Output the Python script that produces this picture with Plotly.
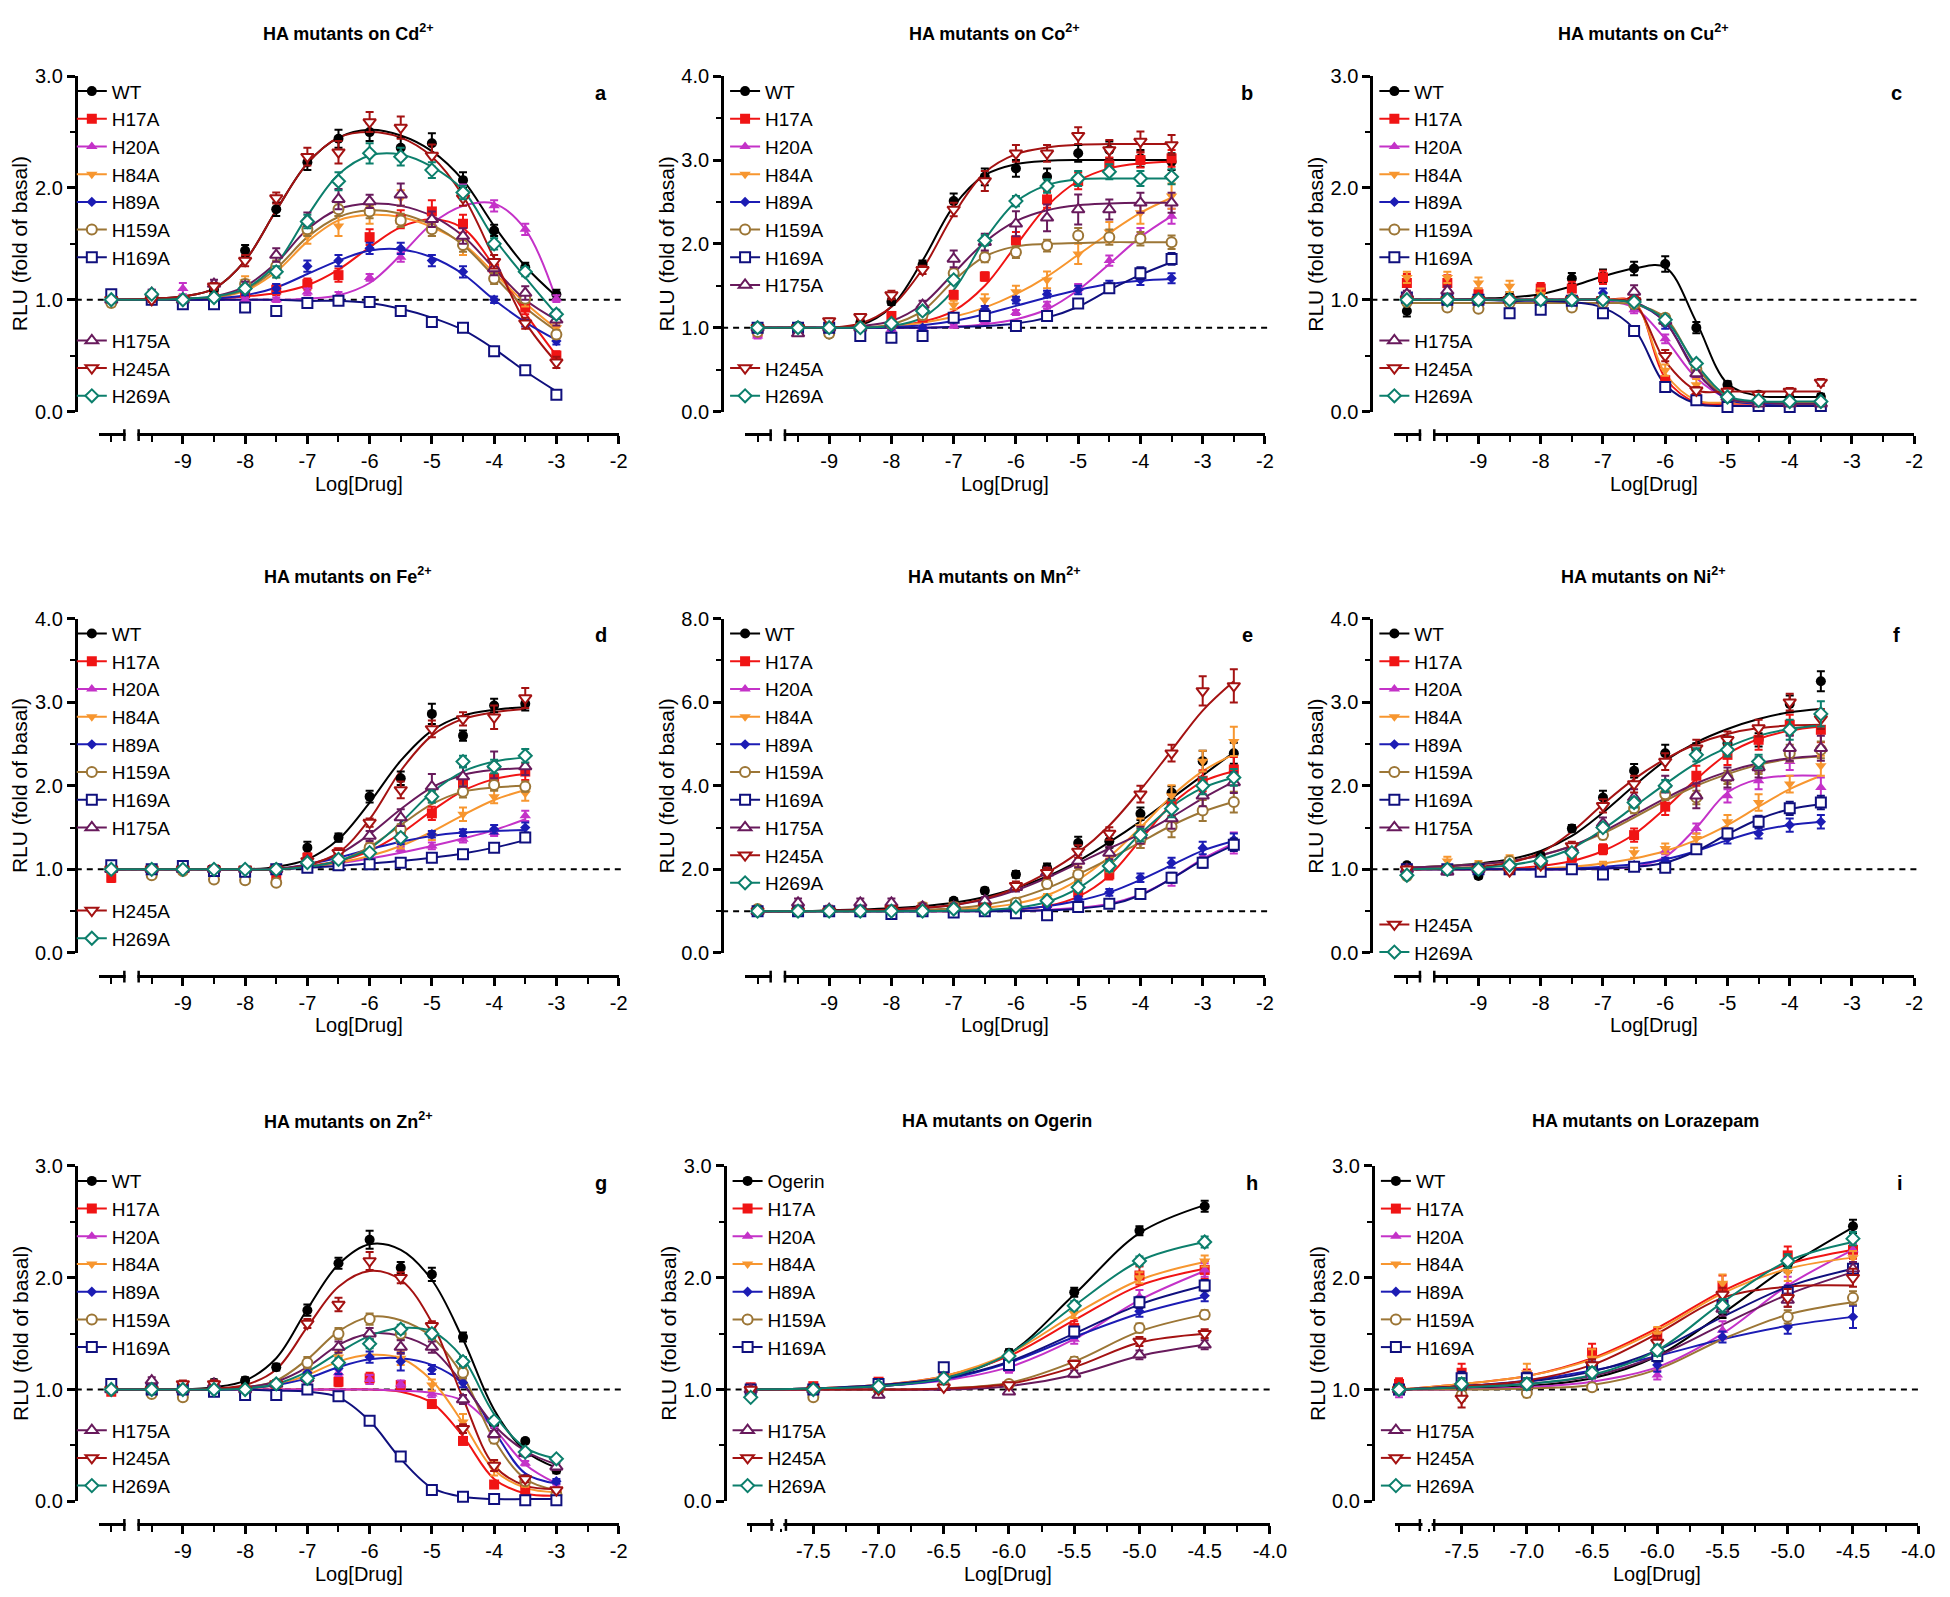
import plotly.graph_objects as go

W, H = 1950, 1597
FONT = "Arial, Liberation Sans, sans-serif"

# ---- series styling -------------------------------------------------------
MUTANTS = ["WT", "H17A", "H20A", "H84A", "H89A", "H159A", "H169A", "H175A", "H245A", "H269A"]
OGERIN_NAMES = ["Ogerin", "H17A", "H20A", "H84A", "H89A", "H159A", "H169A", "H175A", "H245A", "H269A"]
COLORS = ["#000000", "#f01414", "#c432c8", "#f7962f", "#1c1cb4",
          "#9c7636", "#10107e", "#681a5c", "#a41212", "#0c7f6c"]
SYMBOLS = ["circle", "square", "triangle-up", "triangle-down", "diamond",
           "circle", "square", "triangle-up", "triangle-down", "diamond"]
HOLLOW = [False, False, False, False, False, True, True, True, True, True]
SIZES = [10, 10, 10, 10, 8, 10, 10, 11, 11, 10]

# ---- x values (log molar); first value is the basal point on the broken segment
X_M3 = [-10.15, -9.5, -9.0, -8.5, -8.0, -7.5, -7.0, -6.5, -6.0, -5.5, -5.0, -4.5, -4.0, -3.5, -3.0]
X_M35 = [-10.15, -9.5, -9.0, -8.5, -8.0, -7.5, -7.0, -6.5, -6.0, -5.5, -5.0, -4.5, -4.0, -3.5]
X_M25 = [-10.15, -9.5, -9.0, -8.5, -8.0, -7.5, -7.0, -6.5, -6.0, -5.5, -5.0, -4.5, -4.0, -3.5, -3.0, -2.5]
X_DRUG = [-7.98, -7.5, -7.0, -6.5, -6.0, -5.5, -5.0, -4.5]

# ---- a: Cd2+  (means, SEM, fitted curve read at the same x) ---------------
CD_Y = [
    [1.00, 1.04, 0.98, 1.09, 1.44, 1.81, 2.23, 2.44, 2.50, 2.36, 2.40, 2.07, 1.62, 1.29, 1.05],
    [1.00, 1.00, 1.00, 1.02, 1.06, 1.09, 1.14, 1.22, 1.56, 1.72, 1.79, 1.68, 1.28, 0.93, 0.50],
    [1.00, 1.06, 1.10, 1.02, 1.00, 1.00, 1.07, 1.04, 1.20, 1.38, 1.68, 1.98, 1.84, 1.63, 1.01],
    [0.97, 1.00, 1.00, 1.02, 1.16, 1.26, 1.57, 1.66, 1.76, 1.91, 1.63, 1.46, 1.25, 0.99, 0.75],
    [1.00, 1.00, 0.96, 1.00, 1.07, 1.10, 1.30, 1.35, 1.46, 1.46, 1.35, 1.25, 1.00, 0.79, 0.63],
    [0.97, 1.00, 1.00, 1.00, 1.14, 1.30, 1.63, 1.81, 1.79, 1.71, 1.63, 1.49, 1.19, 1.01, 0.69],
    [1.05, 1.00, 0.96, 0.96, 0.93, 0.90, 0.97, 0.99, 0.98, 0.90, 0.80, 0.75, 0.54, 0.37, 0.15],
    [1.00, 1.06, 1.00, 1.14, 1.12, 1.40, 1.72, 1.90, 1.88, 1.94, 1.72, 1.57, 1.28, 1.06, 0.82],
    [1.00, 1.00, 1.00, 1.12, 1.35, 1.91, 2.28, 2.32, 2.59, 2.54, 2.29, 1.91, 1.34, 0.79, 0.44],
    [1.00, 1.05, 1.00, 1.02, 1.10, 1.25, 1.70, 2.06, 2.31, 2.28, 2.16, 1.96, 1.50, 1.25, 0.87],
]
CD_E = [
    [0.03, 0.03, 0.03, 0.04, 0.05, 0.06, 0.07, 0.08, 0.08, 0.09, 0.09, 0.07, 0.05, 0.04, 0.04],
    [0.02, 0.02, 0.02, 0.03, 0.04, 0.05, 0.05, 0.06, 0.07, 0.08, 0.10, 0.08, 0.07, 0.06, 0.04],
    [0.02, 0.03, 0.05, 0.03, 0.02, 0.02, 0.03, 0.03, 0.03, 0.04, 0.05, 0.05, 0.05, 0.05, 0.03],
    [0.03, 0.02, 0.02, 0.03, 0.05, 0.06, 0.07, 0.09, 0.08, 0.07, 0.06, 0.06, 0.05, 0.05, 0.04],
    [0.02, 0.02, 0.02, 0.02, 0.03, 0.04, 0.05, 0.05, 0.05, 0.05, 0.05, 0.05, 0.03, 0.03, 0.03],
    [0.02, 0.02, 0.02, 0.02, 0.04, 0.05, 0.06, 0.06, 0.06, 0.06, 0.06, 0.06, 0.05, 0.04, 0.04],
    [0.03, 0.02, 0.02, 0.02, 0.03, 0.03, 0.03, 0.03, 0.03, 0.03, 0.03, 0.03, 0.03, 0.03, 0.03],
    [0.02, 0.03, 0.03, 0.04, 0.04, 0.06, 0.06, 0.09, 0.06, 0.10, 0.07, 0.07, 0.06, 0.06, 0.05],
    [0.02, 0.02, 0.02, 0.03, 0.05, 0.05, 0.08, 0.10, 0.09, 0.10, 0.10, 0.07, 0.06, 0.05, 0.05],
    [0.02, 0.02, 0.02, 0.02, 0.03, 0.05, 0.06, 0.08, 0.09, 0.08, 0.07, 0.06, 0.05, 0.04, 0.04],
]
CD_FIT = [
    [1.00, 1.01, 1.03, 1.10, 1.35, 1.80, 2.22, 2.45, 2.52, 2.47, 2.33, 2.07, 1.66, 1.30, 1.03],
    [1.00, 1.00, 1.00, 1.01, 1.03, 1.06, 1.13, 1.27, 1.47, 1.65, 1.72, 1.64, 1.30, 0.88, 0.50],
    [1.00, 1.00, 1.00, 1.00, 1.00, 1.00, 1.01, 1.04, 1.15, 1.40, 1.68, 1.84, 1.86, 1.63, 1.00],
    [1.00, 1.00, 1.00, 1.02, 1.08, 1.25, 1.52, 1.71, 1.76, 1.74, 1.65, 1.50, 1.24, 0.97, 0.74],
    [1.00, 1.00, 1.00, 1.01, 1.04, 1.11, 1.23, 1.35, 1.44, 1.45, 1.38, 1.23, 1.00, 0.80, 0.64],
    [1.00, 1.00, 1.00, 1.02, 1.09, 1.28, 1.56, 1.74, 1.80, 1.77, 1.67, 1.49, 1.21, 0.93, 0.72],
    [1.00, 1.00, 1.00, 1.00, 1.00, 1.00, 0.99, 0.99, 0.97, 0.92, 0.84, 0.73, 0.56, 0.36, 0.18],
    [1.00, 1.00, 1.01, 1.03, 1.12, 1.33, 1.63, 1.81, 1.86, 1.84, 1.75, 1.57, 1.28, 1.00, 0.82],
    [1.00, 1.01, 1.03, 1.10, 1.35, 1.80, 2.22, 2.45, 2.50, 2.45, 2.28, 1.93, 1.37, 0.80, 0.44],
    [1.00, 1.00, 1.01, 1.03, 1.10, 1.32, 1.75, 2.12, 2.29, 2.30, 2.19, 1.98, 1.55, 1.20, 0.87],
]

# ---- b: Co2+ --------------------------------------------------------------
CO_Y = [
    [1.00, 1.02, 0.92, 1.06, 1.31, 1.75, 2.51, 2.80, 2.90, 2.80, 3.08, 3.12, 3.02, 2.98],
    [0.95, 1.00, 1.00, 1.00, 1.14, 1.12, 1.39, 1.61, 2.04, 2.53, 2.75, 2.94, 3.00, 3.02],
    [0.90, 1.00, 1.00, 1.00, 0.98, 1.00, 1.02, 1.08, 1.18, 1.27, 1.47, 1.80, 2.12, 2.33],
    [1.00, 1.00, 1.00, 1.00, 1.02, 1.14, 1.27, 1.33, 1.43, 1.57, 1.88, 2.14, 2.37, 2.57],
    [1.00, 1.00, 1.00, 1.00, 1.00, 1.00, 1.10, 1.22, 1.33, 1.40, 1.45, 1.51, 1.57, 1.59],
    [0.95, 0.97, 0.93, 1.00, 1.04, 1.15, 1.65, 1.84, 1.90, 1.98, 2.10, 2.08, 2.06, 2.02],
    [1.00, 1.00, 1.00, 0.90, 0.88, 0.90, 1.12, 1.14, 1.02, 1.14, 1.29, 1.47, 1.65, 1.82],
    [1.00, 0.93, 1.00, 1.00, 1.05, 1.27, 1.82, 2.02, 2.24, 2.31, 2.41, 2.41, 2.49, 2.49],
    [1.00, 1.00, 1.08, 1.13, 1.39, 1.69, 2.41, 2.75, 3.08, 3.08, 3.29, 3.12, 3.22, 3.18],
    [1.00, 1.00, 1.00, 1.00, 1.05, 1.20, 1.57, 2.04, 2.51, 2.69, 2.78, 2.86, 2.78, 2.80],
]
CO_E = [
    [0.03, 0.03, 0.03, 0.03, 0.04, 0.05, 0.09, 0.10, 0.10, 0.10, 0.10, 0.10, 0.10, 0.10],
    [0.03, 0.02, 0.02, 0.02, 0.04, 0.04, 0.05, 0.05, 0.10, 0.10, 0.10, 0.09, 0.09, 0.10],
    [0.03, 0.02, 0.02, 0.02, 0.02, 0.02, 0.02, 0.03, 0.03, 0.04, 0.05, 0.06, 0.07, 0.09],
    [0.02, 0.02, 0.02, 0.02, 0.02, 0.04, 0.05, 0.07, 0.07, 0.10, 0.12, 0.12, 0.13, 0.15],
    [0.02, 0.02, 0.02, 0.02, 0.02, 0.02, 0.03, 0.04, 0.04, 0.04, 0.05, 0.05, 0.06, 0.06],
    [0.02, 0.02, 0.02, 0.02, 0.02, 0.03, 0.05, 0.06, 0.07, 0.07, 0.09, 0.09, 0.08, 0.08],
    [0.02, 0.02, 0.02, 0.02, 0.02, 0.02, 0.03, 0.03, 0.03, 0.03, 0.04, 0.05, 0.07, 0.07],
    [0.02, 0.02, 0.02, 0.02, 0.03, 0.05, 0.10, 0.10, 0.15, 0.16, 0.18, 0.12, 0.12, 0.12],
    [0.02, 0.03, 0.03, 0.03, 0.05, 0.05, 0.08, 0.12, 0.10, 0.10, 0.10, 0.12, 0.12, 0.12],
    [0.02, 0.02, 0.02, 0.02, 0.02, 0.04, 0.05, 0.06, 0.06, 0.08, 0.09, 0.09, 0.09, 0.09],
]
CO_FIT = [
    [1.00, 1.00, 1.00, 1.03, 1.25, 1.80, 2.45, 2.82, 2.95, 2.99, 3.00, 3.00, 3.00, 3.00],
    [1.00, 1.00, 1.00, 1.00, 1.02, 1.07, 1.20, 1.50, 1.98, 2.45, 2.75, 2.90, 2.96, 2.98],
    [1.00, 1.00, 1.00, 1.00, 1.00, 1.00, 1.01, 1.04, 1.10, 1.22, 1.45, 1.76, 2.08, 2.33],
    [1.00, 1.00, 1.00, 1.00, 1.02, 1.06, 1.13, 1.24, 1.40, 1.61, 1.87, 2.13, 2.37, 2.55],
    [1.00, 1.00, 1.00, 1.00, 1.01, 1.03, 1.08, 1.16, 1.26, 1.36, 1.45, 1.52, 1.56, 1.58],
    [1.00, 1.00, 1.00, 1.00, 1.04, 1.20, 1.56, 1.85, 1.97, 2.00, 2.01, 2.02, 2.02, 2.02],
    [1.00, 1.00, 1.00, 1.00, 1.00, 1.00, 1.01, 1.02, 1.05, 1.12, 1.25, 1.45, 1.63, 1.78],
    [1.00, 1.00, 1.00, 1.02, 1.08, 1.28, 1.65, 2.02, 2.27, 2.40, 2.46, 2.48, 2.49, 2.49],
    [1.00, 1.00, 1.00, 1.05, 1.25, 1.70, 2.35, 2.85, 3.07, 3.15, 3.18, 3.19, 3.19, 3.19],
    [1.00, 1.00, 1.00, 1.00, 1.02, 1.12, 1.45, 2.05, 2.50, 2.70, 2.77, 2.78, 2.78, 2.78],
]

# ---- c: Cu2+ --------------------------------------------------------------
CU_Y = [
    [0.90, 1.00, 0.98, 1.03, 1.09, 1.19, 1.21, 1.28, 1.32, 0.75, 0.24, 0.15, 0.12, 0.13],
    [1.15, 1.15, 1.05, 1.00, 1.10, 1.10, 1.20, 0.99, 0.28, 0.12, 0.07, 0.06, 0.06, 0.08],
    [1.00, 1.05, 1.00, 1.00, 0.97, 1.00, 0.97, 0.91, 0.65, 0.32, 0.10, 0.07, 0.06, 0.06],
    [1.20, 1.20, 1.15, 1.12, 1.05, 1.00, 0.97, 0.97, 0.37, 0.24, 0.10, 0.08, 0.08, 0.08],
    [1.00, 1.00, 1.00, 1.00, 1.00, 1.00, 1.06, 0.96, 0.78, 0.35, 0.10, 0.07, 0.06, 0.06],
    [0.98, 0.93, 0.92, 0.97, 0.95, 0.93, 0.97, 0.96, 0.84, 0.38, 0.12, 0.08, 0.07, 0.07],
    [1.02, 1.00, 1.00, 0.88, 0.91, 0.99, 0.88, 0.72, 0.22, 0.10, 0.04, 0.05, 0.04, 0.05],
    [1.05, 1.08, 1.00, 1.00, 1.00, 1.00, 1.00, 1.07, 0.81, 0.34, 0.13, 0.07, 0.07, 0.07],
    [1.00, 1.00, 1.00, 1.00, 1.00, 1.00, 1.00, 0.99, 0.50, 0.19, 0.18, 0.15, 0.18, 0.26],
    [1.00, 1.00, 1.00, 1.00, 1.00, 1.00, 1.00, 0.98, 0.82, 0.43, 0.13, 0.10, 0.09, 0.09],
]
CU_E = [
    [0.05, 0.03, 0.03, 0.04, 0.04, 0.05, 0.06, 0.06, 0.07, 0.05, 0.03, 0.02, 0.02, 0.03],
    [0.08, 0.07, 0.05, 0.03, 0.05, 0.06, 0.06, 0.05, 0.03, 0.02, 0.02, 0.02, 0.02, 0.02],
    [0.04, 0.04, 0.03, 0.03, 0.03, 0.03, 0.03, 0.03, 0.04, 0.03, 0.02, 0.02, 0.02, 0.02],
    [0.05, 0.05, 0.05, 0.05, 0.05, 0.04, 0.04, 0.04, 0.05, 0.05, 0.02, 0.02, 0.02, 0.02],
    [0.03, 0.03, 0.03, 0.03, 0.03, 0.03, 0.04, 0.04, 0.04, 0.03, 0.02, 0.02, 0.02, 0.02],
    [0.03, 0.03, 0.03, 0.03, 0.03, 0.03, 0.03, 0.03, 0.03, 0.03, 0.02, 0.02, 0.02, 0.02],
    [0.03, 0.03, 0.03, 0.03, 0.03, 0.03, 0.03, 0.03, 0.02, 0.02, 0.02, 0.02, 0.02, 0.02],
    [0.03, 0.04, 0.03, 0.03, 0.03, 0.03, 0.03, 0.06, 0.04, 0.03, 0.02, 0.02, 0.02, 0.02],
    [0.03, 0.03, 0.03, 0.03, 0.03, 0.03, 0.03, 0.03, 0.05, 0.03, 0.03, 0.03, 0.03, 0.03],
    [0.03, 0.03, 0.03, 0.03, 0.03, 0.03, 0.03, 0.03, 0.03, 0.03, 0.02, 0.02, 0.02, 0.02],
]
CU_FIT = [
    [1.00, 1.00, 1.01, 1.02, 1.05, 1.12, 1.21, 1.28, 1.29, 0.80, 0.25, 0.14, 0.13, 0.13],
    [1.00, 1.00, 1.00, 1.00, 1.00, 1.00, 1.00, 0.98, 0.30, 0.08, 0.07, 0.07, 0.07, 0.07],
    [1.00, 1.00, 1.00, 1.00, 1.00, 1.00, 0.99, 0.93, 0.65, 0.30, 0.12, 0.08, 0.07, 0.07],
    [1.00, 1.00, 1.00, 1.00, 1.00, 1.00, 1.00, 0.97, 0.34, 0.10, 0.08, 0.08, 0.08, 0.08],
    [1.00, 1.00, 1.00, 1.00, 1.00, 1.00, 1.00, 0.97, 0.80, 0.36, 0.11, 0.07, 0.06, 0.06],
    [0.97, 0.97, 0.97, 0.97, 0.97, 0.97, 0.97, 0.96, 0.84, 0.40, 0.12, 0.08, 0.07, 0.07],
    [1.00, 1.00, 1.00, 0.99, 0.99, 0.98, 0.93, 0.74, 0.24, 0.07, 0.05, 0.05, 0.05, 0.05],
    [1.00, 1.00, 1.00, 1.00, 1.00, 1.00, 1.00, 0.98, 0.80, 0.35, 0.12, 0.08, 0.07, 0.07],
    [1.00, 1.00, 1.00, 1.00, 1.00, 1.00, 1.00, 0.96, 0.45, 0.19, 0.18, 0.18, 0.18, 0.18],
    [1.00, 1.00, 1.00, 1.00, 1.00, 1.00, 1.00, 0.97, 0.82, 0.42, 0.14, 0.09, 0.09, 0.09],
]

# ---- d: Fe2+ --------------------------------------------------------------
FE_Y = [
    [0.98, 1.00, 0.98, 1.00, 0.98, 1.02, 1.26, 1.38, 1.87, 2.09, 2.86, 2.60, 2.96, 2.98],
    [0.90, 1.00, 1.00, 1.00, 0.97, 0.92, 1.14, 1.20, 1.24, 1.42, 1.67, 2.01, 2.09, 2.17],
    [1.00, 1.00, 1.00, 1.00, 1.00, 1.00, 1.05, 1.08, 1.20, 1.24, 1.28, 1.36, 1.44, 1.64],
    [1.00, 1.00, 1.00, 1.00, 1.00, 1.00, 1.05, 1.12, 1.22, 1.30, 1.40, 1.66, 1.87, 1.91],
    [1.00, 1.00, 1.00, 1.00, 1.00, 1.00, 1.10, 1.16, 1.24, 1.34, 1.42, 1.44, 1.48, 1.50],
    [1.00, 0.93, 0.98, 0.88, 0.87, 0.84, 1.06, 1.12, 1.26, 1.48, 1.87, 1.93, 2.01, 1.99],
    [1.05, 1.00, 1.04, 0.98, 0.97, 1.00, 1.02, 1.05, 1.06, 1.08, 1.14, 1.18, 1.26, 1.38],
    [1.00, 1.00, 1.00, 1.00, 1.00, 1.00, 1.10, 1.12, 1.40, 1.62, 1.99, 2.11, 2.25, 2.23],
    [1.00, 1.00, 1.00, 1.00, 1.00, 1.00, 1.10, 1.20, 1.56, 1.95, 2.68, 2.80, 2.82, 3.05],
    [1.00, 1.00, 1.00, 1.00, 1.00, 1.00, 1.08, 1.12, 1.20, 1.38, 1.87, 2.29, 2.23, 2.36],
]
FE_E = [
    [0.03, 0.03, 0.03, 0.03, 0.03, 0.03, 0.07, 0.05, 0.07, 0.08, 0.12, 0.06, 0.08, 0.08],
    [0.05, 0.03, 0.03, 0.03, 0.03, 0.05, 0.05, 0.05, 0.07, 0.08, 0.08, 0.10, 0.10, 0.10],
    [0.03, 0.02, 0.02, 0.02, 0.02, 0.02, 0.03, 0.03, 0.03, 0.03, 0.04, 0.04, 0.04, 0.06],
    [0.02, 0.02, 0.02, 0.02, 0.02, 0.02, 0.03, 0.04, 0.05, 0.05, 0.05, 0.08, 0.08, 0.09],
    [0.02, 0.02, 0.02, 0.02, 0.02, 0.02, 0.03, 0.03, 0.04, 0.04, 0.04, 0.04, 0.05, 0.06],
    [0.02, 0.03, 0.03, 0.04, 0.04, 0.04, 0.03, 0.04, 0.05, 0.06, 0.07, 0.07, 0.07, 0.06],
    [0.02, 0.02, 0.02, 0.02, 0.02, 0.02, 0.02, 0.02, 0.02, 0.02, 0.02, 0.03, 0.05, 0.04],
    [0.02, 0.02, 0.02, 0.02, 0.02, 0.02, 0.04, 0.04, 0.06, 0.10, 0.15, 0.12, 0.16, 0.10],
    [0.02, 0.02, 0.02, 0.02, 0.02, 0.02, 0.04, 0.05, 0.05, 0.10, 0.10, 0.08, 0.14, 0.12],
    [0.02, 0.02, 0.02, 0.02, 0.02, 0.02, 0.03, 0.04, 0.04, 0.05, 0.07, 0.07, 0.08, 0.08],
]
FE_FIT = [
    [1.00, 1.00, 1.00, 1.00, 1.00, 1.03, 1.12, 1.36, 1.80, 2.30, 2.66, 2.84, 2.91, 2.94],
    [1.00, 1.00, 1.00, 1.00, 1.00, 1.00, 1.04, 1.10, 1.22, 1.43, 1.70, 1.94, 2.08, 2.14],
    [1.00, 1.00, 1.00, 1.00, 1.00, 1.00, 1.03, 1.07, 1.13, 1.20, 1.28, 1.37, 1.47, 1.60],
    [1.00, 1.00, 1.00, 1.00, 1.00, 1.00, 1.03, 1.08, 1.16, 1.28, 1.45, 1.65, 1.83, 1.95],
    [1.00, 1.00, 1.00, 1.00, 1.00, 1.00, 1.06, 1.14, 1.24, 1.33, 1.40, 1.44, 1.46, 1.47],
    [1.00, 1.00, 1.00, 1.00, 1.00, 1.00, 1.03, 1.10, 1.27, 1.53, 1.78, 1.93, 1.98, 2.00],
    [1.00, 1.00, 1.00, 1.00, 1.00, 1.00, 1.02, 1.04, 1.07, 1.10, 1.14, 1.19, 1.26, 1.35],
    [1.00, 1.00, 1.00, 1.00, 1.00, 1.01, 1.06, 1.18, 1.42, 1.72, 1.98, 2.13, 2.19, 2.21],
    [1.00, 1.00, 1.00, 1.00, 1.00, 1.00, 1.05, 1.20, 1.60, 2.18, 2.60, 2.80, 2.88, 2.92],
    [1.00, 1.00, 1.00, 1.00, 1.00, 1.00, 1.03, 1.10, 1.25, 1.56, 1.92, 2.17, 2.29, 2.34],
]

# ---- e: Mn2+ --------------------------------------------------------------
MN_Y = [
    [1.05, 1.00, 1.00, 1.00, 1.05, 1.05, 1.25, 1.49, 1.88, 2.04, 2.63, 2.67, 3.33, 3.84, 4.59, 4.78],
    [1.00, 1.00, 1.00, 1.00, 1.00, 1.00, 1.02, 1.05, 1.10, 1.20, 1.45, 1.88, 2.71, 3.53, 4.12, 4.39],
    [1.00, 1.00, 1.00, 1.00, 1.00, 1.00, 1.00, 1.00, 1.02, 1.05, 1.10, 1.20, 1.41, 1.76, 2.31, 2.63],
    [1.05, 1.05, 1.05, 1.05, 1.05, 1.15, 1.15, 1.20, 1.25, 1.33, 1.92, 2.16, 3.02, 3.76, 4.59, 5.06],
    [1.00, 1.00, 1.00, 1.00, 1.00, 1.00, 1.00, 1.02, 1.05, 1.10, 1.29, 1.45, 1.80, 2.16, 2.51, 2.71],
    [1.05, 1.00, 1.00, 1.00, 1.05, 1.10, 1.10, 1.15, 1.20, 1.65, 1.88, 2.08, 2.71, 3.02, 3.41, 3.61],
    [1.00, 1.00, 1.00, 1.00, 0.93, 1.00, 0.97, 1.00, 0.95, 0.90, 1.10, 1.18, 1.41, 1.80, 2.16, 2.59],
    [1.00, 1.20, 1.05, 1.20, 1.20, 1.10, 1.10, 1.25, 1.57, 1.92, 2.20, 2.39, 2.82, 3.22, 3.76, 4.08],
    [1.00, 1.00, 1.00, 1.00, 1.05, 1.05, 1.05, 1.10, 1.61, 1.92, 2.43, 2.86, 3.80, 4.78, 6.27, 6.39],
    [1.00, 1.00, 1.00, 1.00, 1.00, 1.00, 1.05, 1.05, 1.10, 1.25, 1.57, 2.08, 2.82, 3.45, 4.00, 4.20],
]
MN_E = [
    [0.05, 0.05, 0.05, 0.05, 0.05, 0.05, 0.06, 0.07, 0.08, 0.10, 0.15, 0.15, 0.15, 0.15, 0.25, 0.25],
    [0.05, 0.05, 0.05, 0.05, 0.05, 0.05, 0.05, 0.05, 0.05, 0.08, 0.10, 0.12, 0.20, 0.25, 0.25, 0.30],
    [0.05, 0.05, 0.05, 0.05, 0.05, 0.05, 0.05, 0.05, 0.05, 0.05, 0.06, 0.08, 0.10, 0.15, 0.20, 0.25],
    [0.05, 0.05, 0.05, 0.05, 0.05, 0.05, 0.05, 0.05, 0.05, 0.08, 0.15, 0.15, 0.20, 0.25, 0.25, 0.35],
    [0.05, 0.05, 0.05, 0.05, 0.05, 0.05, 0.05, 0.05, 0.05, 0.05, 0.06, 0.08, 0.10, 0.12, 0.15, 0.15],
    [0.05, 0.05, 0.05, 0.05, 0.05, 0.05, 0.05, 0.05, 0.05, 0.10, 0.15, 0.15, 0.20, 0.25, 0.25, 0.25],
    [0.05, 0.05, 0.05, 0.05, 0.05, 0.05, 0.05, 0.05, 0.05, 0.05, 0.06, 0.08, 0.10, 0.12, 0.12, 0.15],
    [0.05, 0.10, 0.08, 0.10, 0.10, 0.08, 0.08, 0.08, 0.10, 0.12, 0.15, 0.15, 0.20, 0.25, 0.25, 0.25],
    [0.05, 0.05, 0.05, 0.05, 0.05, 0.05, 0.05, 0.08, 0.10, 0.12, 0.15, 0.15, 0.20, 0.20, 0.35, 0.40],
    [0.05, 0.05, 0.05, 0.05, 0.05, 0.05, 0.05, 0.05, 0.05, 0.08, 0.10, 0.12, 0.15, 0.20, 0.20, 0.20],
]
MN_FIT = [
    [1.00, 1.00, 1.02, 1.04, 1.07, 1.12, 1.20, 1.34, 1.55, 1.83, 2.20, 2.65, 3.15, 3.70, 4.25, 4.80],
    [1.00, 1.00, 1.00, 1.00, 1.00, 1.00, 1.00, 1.01, 1.04, 1.12, 1.35, 1.85, 2.70, 3.55, 4.10, 4.35],
    [1.00, 1.00, 1.00, 1.00, 1.00, 1.00, 1.00, 1.00, 1.01, 1.03, 1.08, 1.18, 1.40, 1.78, 2.25, 2.62],
    [1.00, 1.00, 1.00, 1.00, 1.00, 1.01, 1.03, 1.08, 1.18, 1.38, 1.75, 2.30, 3.00, 3.75, 4.35, 4.75],
    [1.00, 1.00, 1.00, 1.00, 1.00, 1.00, 1.01, 1.02, 1.05, 1.12, 1.25, 1.45, 1.75, 2.10, 2.45, 2.68],
    [1.00, 1.00, 1.00, 1.00, 1.01, 1.03, 1.07, 1.15, 1.30, 1.55, 1.88, 2.25, 2.65, 3.05, 3.38, 3.62],
    [1.00, 1.00, 1.00, 1.00, 1.00, 1.00, 1.00, 1.00, 1.00, 1.02, 1.06, 1.15, 1.38, 1.78, 2.22, 2.58],
    [1.00, 1.00, 1.01, 1.02, 1.04, 1.08, 1.15, 1.28, 1.50, 1.80, 2.15, 2.50, 2.85, 3.25, 3.70, 4.10],
    [1.00, 1.00, 1.01, 1.02, 1.04, 1.08, 1.15, 1.30, 1.55, 1.92, 2.40, 3.05, 3.90, 4.85, 5.80, 6.50],
    [1.00, 1.00, 1.00, 1.00, 1.00, 1.00, 1.01, 1.03, 1.08, 1.22, 1.55, 2.10, 2.85, 3.50, 3.95, 4.20],
]

# ---- f: Ni2+ --------------------------------------------------------------
NI_Y = [
    [1.05, 1.00, 0.92, 1.03, 1.16, 1.49, 1.86, 2.18, 2.39, 2.43, 2.51, 2.55, 2.98, 3.25],
    [0.98, 1.00, 1.00, 1.00, 1.05, 1.14, 1.24, 1.41, 1.75, 2.12, 2.37, 2.55, 2.73, 2.67],
    [1.00, 1.00, 1.00, 1.00, 1.00, 1.00, 1.00, 1.05, 1.22, 1.49, 1.88, 2.06, 2.29, 1.98],
    [1.00, 1.10, 1.05, 1.12, 1.05, 1.00, 1.05, 1.20, 1.25, 1.37, 1.57, 1.80, 2.02, 2.24],
    [1.00, 1.00, 1.00, 1.00, 1.00, 1.00, 1.00, 1.05, 1.10, 1.24, 1.37, 1.43, 1.53, 1.57],
    [0.92, 1.00, 1.03, 1.10, 1.10, 1.20, 1.41, 1.73, 1.90, 1.86, 2.10, 2.22, 2.39, 2.43],
    [1.00, 1.00, 1.00, 1.00, 0.97, 1.00, 0.94, 1.03, 1.02, 1.24, 1.43, 1.57, 1.73, 1.80],
    [1.00, 0.97, 1.00, 1.05, 1.10, 1.25, 1.55, 1.86, 2.02, 1.88, 2.10, 2.22, 2.45, 2.45],
    [1.00, 1.00, 1.00, 0.98, 1.05, 1.28, 1.76, 2.02, 2.29, 2.45, 2.55, 2.69, 3.00, 2.80],
    [0.93, 1.00, 1.00, 1.05, 1.10, 1.20, 1.50, 1.80, 2.00, 2.37, 2.43, 2.29, 2.67, 2.86],
]
NI_E = [
    [0.03, 0.03, 0.03, 0.03, 0.04, 0.04, 0.08, 0.08, 0.10, 0.08, 0.08, 0.08, 0.10, 0.12],
    [0.03, 0.03, 0.03, 0.03, 0.04, 0.05, 0.06, 0.08, 0.10, 0.12, 0.12, 0.12, 0.12, 0.15],
    [0.02, 0.02, 0.02, 0.02, 0.02, 0.02, 0.02, 0.03, 0.04, 0.06, 0.08, 0.10, 0.10, 0.12],
    [0.03, 0.05, 0.05, 0.05, 0.04, 0.03, 0.04, 0.06, 0.06, 0.06, 0.08, 0.10, 0.10, 0.12],
    [0.02, 0.02, 0.02, 0.02, 0.02, 0.02, 0.02, 0.03, 0.04, 0.05, 0.06, 0.06, 0.08, 0.08],
    [0.03, 0.03, 0.03, 0.03, 0.03, 0.04, 0.05, 0.06, 0.07, 0.08, 0.08, 0.08, 0.10, 0.10],
    [0.02, 0.02, 0.02, 0.02, 0.02, 0.02, 0.03, 0.03, 0.04, 0.05, 0.06, 0.07, 0.08, 0.08],
    [0.03, 0.03, 0.03, 0.04, 0.04, 0.05, 0.07, 0.10, 0.10, 0.15, 0.12, 0.12, 0.15, 0.15],
    [0.03, 0.03, 0.03, 0.03, 0.04, 0.05, 0.08, 0.10, 0.10, 0.10, 0.10, 0.10, 0.10, 0.12],
    [0.03, 0.02, 0.02, 0.02, 0.03, 0.04, 0.05, 0.06, 0.07, 0.08, 0.08, 0.08, 0.12, 0.15],
]
NI_FIT = [
    [1.02, 1.04, 1.07, 1.12, 1.22, 1.40, 1.68, 2.00, 2.30, 2.52, 2.68, 2.80, 2.88, 2.92],
    [1.00, 1.00, 1.00, 1.01, 1.04, 1.10, 1.22, 1.42, 1.73, 2.08, 2.38, 2.56, 2.66, 2.71],
    [1.00, 1.00, 1.00, 1.00, 1.00, 1.00, 1.01, 1.03, 1.15, 1.50, 1.92, 2.08, 2.12, 2.12],
    [1.00, 1.00, 1.00, 1.00, 1.01, 1.03, 1.07, 1.13, 1.22, 1.35, 1.53, 1.75, 1.96, 2.12],
    [1.00, 1.00, 1.00, 1.00, 1.00, 1.01, 1.03, 1.06, 1.12, 1.22, 1.35, 1.46, 1.53, 1.57],
    [1.02, 1.04, 1.06, 1.10, 1.17, 1.28, 1.43, 1.62, 1.82, 2.00, 2.14, 2.25, 2.32, 2.35],
    [1.00, 1.00, 1.00, 1.00, 1.00, 1.00, 1.01, 1.03, 1.08, 1.22, 1.42, 1.60, 1.72, 1.78],
    [1.02, 1.04, 1.06, 1.10, 1.17, 1.28, 1.45, 1.65, 1.85, 2.03, 2.17, 2.27, 2.33, 2.36],
    [1.00, 1.01, 1.03, 1.08, 1.20, 1.45, 1.78, 2.08, 2.32, 2.50, 2.62, 2.69, 2.72, 2.73],
    [1.00, 1.01, 1.02, 1.05, 1.12, 1.25, 1.48, 1.75, 2.02, 2.27, 2.46, 2.60, 2.68, 2.72],
]

# ---- g: Zn2+ --------------------------------------------------------------
ZN_Y = [
    [1.03, 1.05, 1.00, 1.06, 1.08, 1.20, 1.71, 2.13, 2.34, 2.09, 2.03, 1.47, 0.69, 0.54, 0.28],
    [0.98, 1.00, 1.00, 1.00, 1.00, 1.00, 1.00, 1.07, 1.10, 1.04, 0.87, 0.54, 0.15, 0.10, 0.06],
    [1.00, 1.00, 1.00, 1.00, 1.00, 1.00, 1.08, 1.15, 1.09, 1.05, 0.96, 0.90, 0.63, 0.34, 0.13],
    [1.00, 1.00, 1.00, 1.05, 1.00, 1.05, 1.15, 1.29, 1.38, 1.28, 1.04, 0.71, 0.29, 0.16, 0.07],
    [1.00, 1.00, 1.00, 1.00, 1.00, 1.05, 1.15, 1.19, 1.29, 1.25, 1.18, 1.06, 0.60, 0.21, 0.18],
    [1.00, 0.96, 0.93, 1.00, 0.95, 1.05, 1.24, 1.50, 1.63, 1.50, 1.50, 1.15, 0.56, 0.18, 0.06],
    [1.05, 1.00, 1.00, 0.98, 0.95, 0.95, 1.00, 0.94, 0.72, 0.40, 0.10, 0.04, 0.02, 0.01, 0.01],
    [1.00, 1.08, 1.00, 1.05, 1.00, 1.05, 1.10, 1.38, 1.50, 1.38, 1.38, 0.91, 0.60, 0.43, 0.31],
    [1.00, 1.00, 1.05, 1.05, 1.00, 1.05, 1.59, 1.76, 2.15, 2.00, 1.57, 0.65, 0.32, 0.20, 0.10],
    [1.00, 1.00, 1.00, 1.00, 1.00, 1.05, 1.10, 1.24, 1.41, 1.54, 1.50, 1.25, 0.72, 0.44, 0.38],
]
ZN_E = [
    [0.03, 0.03, 0.03, 0.03, 0.03, 0.03, 0.05, 0.05, 0.08, 0.05, 0.06, 0.04, 0.03, 0.02, 0.03],
    [0.03, 0.02, 0.02, 0.02, 0.02, 0.02, 0.03, 0.04, 0.05, 0.03, 0.03, 0.03, 0.02, 0.02, 0.02],
    [0.02, 0.02, 0.02, 0.02, 0.02, 0.02, 0.03, 0.03, 0.04, 0.03, 0.03, 0.03, 0.03, 0.02, 0.02],
    [0.02, 0.02, 0.02, 0.03, 0.02, 0.03, 0.04, 0.05, 0.07, 0.06, 0.05, 0.07, 0.06, 0.03, 0.02],
    [0.02, 0.02, 0.02, 0.02, 0.02, 0.02, 0.04, 0.05, 0.05, 0.08, 0.04, 0.04, 0.03, 0.02, 0.02],
    [0.02, 0.02, 0.03, 0.02, 0.03, 0.03, 0.05, 0.05, 0.05, 0.05, 0.05, 0.05, 0.04, 0.03, 0.02],
    [0.03, 0.02, 0.02, 0.02, 0.02, 0.02, 0.02, 0.02, 0.02, 0.02, 0.02, 0.01, 0.01, 0.01, 0.01],
    [0.02, 0.03, 0.02, 0.03, 0.02, 0.03, 0.04, 0.05, 0.05, 0.06, 0.05, 0.04, 0.03, 0.03, 0.03],
    [0.02, 0.02, 0.03, 0.03, 0.02, 0.03, 0.04, 0.06, 0.08, 0.05, 0.04, 0.04, 0.05, 0.03, 0.02],
    [0.02, 0.02, 0.02, 0.02, 0.02, 0.02, 0.03, 0.04, 0.04, 0.04, 0.04, 0.04, 0.03, 0.03, 0.02],
]
ZN_FIT = [
    [1.00, 1.00, 1.00, 1.02, 1.08, 1.28, 1.72, 2.12, 2.30, 2.25, 1.98, 1.45, 0.82, 0.45, 0.30],
    [1.00, 1.00, 1.00, 1.00, 1.00, 1.00, 1.00, 1.00, 1.00, 0.98, 0.88, 0.58, 0.20, 0.07, 0.05],
    [1.00, 1.00, 1.00, 1.00, 1.00, 1.00, 1.00, 1.00, 1.00, 0.99, 0.97, 0.90, 0.65, 0.33, 0.16],
    [1.00, 1.00, 1.00, 1.00, 1.01, 1.04, 1.13, 1.25, 1.31, 1.28, 1.08, 0.70, 0.28, 0.12, 0.08],
    [1.00, 1.00, 1.00, 1.00, 1.01, 1.04, 1.10, 1.20, 1.27, 1.28, 1.22, 1.05, 0.63, 0.25, 0.16],
    [1.00, 1.00, 1.00, 1.00, 1.02, 1.08, 1.27, 1.52, 1.65, 1.62, 1.47, 1.12, 0.55, 0.20, 0.10],
    [1.00, 1.00, 1.00, 1.00, 1.00, 0.99, 0.98, 0.93, 0.72, 0.38, 0.12, 0.04, 0.02, 0.02, 0.02],
    [1.00, 1.00, 1.00, 1.00, 1.02, 1.07, 1.20, 1.40, 1.50, 1.48, 1.36, 1.05, 0.68, 0.45, 0.33],
    [1.00, 1.00, 1.00, 1.01, 1.04, 1.18, 1.56, 1.92, 2.06, 1.98, 1.60, 0.92, 0.32, 0.14, 0.11],
    [1.00, 1.00, 1.00, 1.00, 1.01, 1.05, 1.16, 1.33, 1.48, 1.55, 1.52, 1.28, 0.78, 0.48, 0.38],
]

# ---- h: Ogerin ------------------------------------------------------------
OG_Y = [
    [0.98, 1.00, 1.02, 1.13, 1.33, 1.87, 2.42, 2.64],
    [1.02, 1.03, 1.07, 1.17, 1.29, 1.55, 2.02, 2.07],
    [0.97, 1.00, 1.03, 1.10, 1.18, 1.45, 1.83, 2.07],
    [1.00, 1.02, 1.05, 1.10, 1.30, 1.68, 2.00, 2.15],
    [1.00, 1.02, 1.05, 1.10, 1.22, 1.50, 1.70, 1.84],
    [1.00, 0.93, 1.00, 1.04, 1.05, 1.25, 1.55, 1.67],
    [1.00, 1.00, 1.05, 1.20, 1.22, 1.52, 1.78, 1.93],
    [1.00, 1.00, 0.95, 1.02, 0.98, 1.14, 1.31, 1.40],
    [1.00, 1.00, 1.00, 1.02, 1.04, 1.23, 1.43, 1.50],
    [0.93, 1.00, 1.03, 1.10, 1.30, 1.75, 2.15, 2.32],
]
OG_E = [
    [0.02, 0.02, 0.02, 0.03, 0.03, 0.04, 0.04, 0.05],
    [0.02, 0.02, 0.03, 0.03, 0.03, 0.06, 0.08, 0.08],
    [0.02, 0.02, 0.02, 0.02, 0.03, 0.04, 0.06, 0.06],
    [0.02, 0.02, 0.02, 0.02, 0.03, 0.04, 0.05, 0.05],
    [0.02, 0.02, 0.02, 0.02, 0.03, 0.04, 0.05, 0.05],
    [0.02, 0.02, 0.02, 0.02, 0.02, 0.04, 0.04, 0.04],
    [0.02, 0.02, 0.02, 0.03, 0.03, 0.04, 0.05, 0.05],
    [0.02, 0.02, 0.02, 0.02, 0.02, 0.03, 0.04, 0.04],
    [0.02, 0.02, 0.02, 0.02, 0.02, 0.03, 0.04, 0.04],
    [0.02, 0.02, 0.02, 0.02, 0.03, 0.04, 0.04, 0.05],
]
OG_FIT = [
    [1.00, 1.01, 1.03, 1.10, 1.32, 1.85, 2.40, 2.65],
    [1.00, 1.01, 1.04, 1.12, 1.30, 1.62, 1.93, 2.08],
    [1.00, 1.00, 1.03, 1.08, 1.20, 1.45, 1.80, 2.06],
    [1.00, 1.01, 1.04, 1.12, 1.32, 1.67, 1.98, 2.14],
    [1.00, 1.01, 1.03, 1.09, 1.24, 1.47, 1.68, 1.83],
    [1.00, 1.00, 1.00, 1.01, 1.06, 1.25, 1.52, 1.67],
    [1.00, 1.01, 1.04, 1.10, 1.25, 1.50, 1.76, 1.93],
    [1.00, 1.00, 1.00, 1.00, 1.03, 1.13, 1.30, 1.40],
    [1.00, 1.00, 1.00, 1.01, 1.05, 1.20, 1.42, 1.50],
    [1.00, 1.01, 1.03, 1.10, 1.32, 1.75, 2.15, 2.32],
]

# ---- i: Lorazepam ---------------------------------------------------------
LZ_Y = [
    [1.00, 1.00, 1.05, 1.15, 1.30, 1.70, 2.12, 2.46],
    [1.05, 1.15, 1.12, 1.33, 1.48, 1.92, 2.20, 2.25],
    [0.97, 1.05, 1.00, 1.12, 1.13, 1.53, 1.93, 2.25],
    [1.00, 1.05, 1.15, 1.28, 1.50, 1.95, 2.05, 2.18],
    [1.00, 1.08, 1.10, 1.20, 1.22, 1.47, 1.56, 1.65],
    [1.00, 0.95, 0.97, 1.02, 1.35, 1.75, 1.65, 1.82],
    [1.00, 1.10, 1.10, 1.18, 1.30, 1.75, 1.87, 2.08],
    [1.00, 1.05, 1.05, 1.15, 1.35, 1.72, 1.80, 2.08],
    [1.00, 0.92, 1.05, 1.22, 1.42, 1.85, 1.82, 2.00],
    [1.00, 1.05, 1.05, 1.15, 1.35, 1.75, 2.15, 2.35],
]
LZ_E = [
    [0.04, 0.06, 0.05, 0.05, 0.05, 0.06, 0.07, 0.06],
    [0.05, 0.08, 0.06, 0.08, 0.07, 0.10, 0.08, 0.08],
    [0.04, 0.05, 0.04, 0.05, 0.04, 0.08, 0.08, 0.06],
    [0.04, 0.06, 0.08, 0.08, 0.06, 0.08, 0.08, 0.06],
    [0.04, 0.05, 0.05, 0.05, 0.06, 0.05, 0.06, 0.10],
    [0.04, 0.05, 0.04, 0.03, 0.05, 0.06, 0.06, 0.06],
    [0.04, 0.06, 0.05, 0.05, 0.05, 0.06, 0.06, 0.06],
    [0.04, 0.05, 0.05, 0.05, 0.05, 0.06, 0.06, 0.06],
    [0.04, 0.08, 0.05, 0.05, 0.06, 0.06, 0.08, 0.08],
    [0.04, 0.05, 0.05, 0.05, 0.05, 0.06, 0.06, 0.06],
]
LZ_FIT = [
    [1.00, 1.01, 1.03, 1.10, 1.30, 1.68, 2.10, 2.45],
    [1.00, 1.05, 1.12, 1.28, 1.55, 1.88, 2.12, 2.25],
    [1.00, 1.00, 1.02, 1.07, 1.20, 1.50, 1.93, 2.25],
    [1.00, 1.05, 1.12, 1.27, 1.53, 1.86, 2.08, 2.18],
    [1.00, 1.03, 1.08, 1.17, 1.30, 1.45, 1.57, 1.65],
    [1.00, 1.00, 1.01, 1.04, 1.18, 1.45, 1.67, 1.78],
    [1.00, 1.03, 1.07, 1.16, 1.35, 1.65, 1.92, 2.08],
    [1.00, 1.02, 1.05, 1.12, 1.30, 1.58, 1.85, 2.05],
    [1.00, 1.03, 1.08, 1.22, 1.50, 1.82, 1.92, 1.93],
    [1.00, 1.02, 1.05, 1.13, 1.35, 1.78, 2.15, 2.32],
]

# ---- page geometry (pixels) ----------------------------------------------
ROW_TITLE = [14, 564, 1117]
ROW_TOP = [58, 608, 1163]
ROW_ZERO = [398, 947, 1503]
ROW_XAXIS = [421, 970, 1526]
ROW_XTITLE = [472, 1020, 1577]
METAL_END = [616, 1268, 1923]
DRUG_END = [616, 1273, 1927]
LEGEND_DX = [-4, 3, 3]

PANELS = [
    dict(title="HA mutants on Cd<sup>2+</sup>", tag="a", x=X_M3, y=CD_Y, e=CD_E, fit=CD_FIT,
         names=MUTANTS, ymax=3, ystep=1, split=7, gap=2.0, row=0, col=0, kind="metal"),
    dict(title="HA mutants on Co<sup>2+</sup>", tag="b", x=X_M35, y=CO_Y, e=CO_E, fit=CO_FIT,
         names=MUTANTS, ymax=4, ystep=1, split=8, gap=2.0, row=0, col=1, kind="metal"),
    dict(title="HA mutants on Cu<sup>2+</sup>", tag="c", x=X_M35, y=CU_Y, e=CU_E, fit=CU_FIT,
         names=MUTANTS, ymax=3, ystep=1, split=7, gap=2.0, row=0, col=2, kind="metal"),
    dict(title="HA mutants on Fe<sup>2+</sup>", tag="d", x=X_M35, y=FE_Y, e=FE_E, fit=FE_FIT,
         names=MUTANTS, ymax=4, ystep=1, split=8, gap=2.0, row=1, col=0, kind="metal"),
    dict(title="HA mutants on Mn<sup>2+</sup>", tag="e", x=X_M25, y=MN_Y, e=MN_E, fit=MN_FIT,
         names=MUTANTS, ymax=8, ystep=2, split=None, gap=0, row=1, col=1, kind="metal"),
    dict(title="HA mutants on Ni<sup>2+</sup>", tag="f", x=X_M35, y=NI_Y, e=NI_E, fit=NI_FIT,
         names=MUTANTS, ymax=4, ystep=1, split=8, gap=2.5, row=1, col=2, kind="metal"),
    dict(title="HA mutants on Zn<sup>2+</sup>", tag="g", x=X_M3, y=ZN_Y, e=ZN_E, fit=ZN_FIT,
         names=MUTANTS, ymax=3, ystep=1, split=7, gap=2.0, row=2, col=0, kind="metal"),
    dict(title="HA mutants on Ogerin", tag="h", x=X_DRUG, y=OG_Y, e=OG_E, fit=OG_FIT,
         names=OGERIN_NAMES, ymax=3, ystep=1, split=7, gap=2.0, row=2, col=1, kind="drug"),
    dict(title="HA mutants on Lorazepam", tag="i", x=X_DRUG, y=LZ_Y, e=LZ_E, fit=LZ_FIT,
         names=MUTANTS, ymax=3, ystep=1, split=7, gap=2.0, row=2, col=2, kind="drug"),
]

ROW_H = 27.7  # legend entry pitch


def fx(p):
    return p / W


def fy(p):
    return 1 - p / H


def marker_style(i):
    c = COLORS[i]
    if HOLLOW[i]:
        return dict(symbol=SYMBOLS[i], size=SIZES[i], color="white", line=dict(color=c, width=2))
    return dict(symbol=SYMBOLS[i], size=SIZES[i], color=c, line=dict(color=c, width=0))


fig = go.Figure()
annotations = []
shapes = []
layout_axes = {}

for k, p in enumerate(PANELS, start=1):
    sfx = "" if k == 1 else str(k)
    row, col = p["row"], p["col"]

    if p["kind"] == "metal":
        end_px, scale = METAL_END[col], 62.8
        lo, hi, yline = -10.35, -2.0, -10.72
        seg_end, main_start = -9.94, -9.71
        major = [float(v) for v in range(-9, -1)]
        major_text = [str(v) for v in range(-9, -1)]
        minor = [p["x"][0]] + [v + 0.5 for v in range(-10, -2)]
    else:
        end_px, scale = DRUG_END[col], 131.6
        lo, hi, yline = -8.01, -4.0, -8.18
        seg_end, main_start = -7.82, -7.71
        major = [-7.5 + 0.5 * i for i in range(8)]
        major_text = ["%.1f" % v for v in major]
        minor = [p["x"][0]] + [v - 0.25 for v in major]

    x0_px = end_px - (hi - lo) * scale
    yaxis_px = end_px - (hi - yline) * scale
    top_px, zero_px, xaxis_px = ROW_TOP[row], ROW_ZERO[row], ROW_XAXIS[row]
    ymax = p["ymax"]

    layout_axes["xaxis" + sfx] = dict(
        domain=[fx(x0_px), fx(end_px)], range=[lo, hi], anchor="free", position=fy(xaxis_px),
        showline=True, linewidth=3, linecolor="black", showgrid=False, zeroline=False,
        ticks="outside", ticklen=8, tickwidth=2.5, tickcolor="black",
        tickmode="array", tickvals=major, ticktext=major_text,
        minor=dict(tickmode="array", tickvals=minor, ticks="outside", ticklen=6,
                   tickwidth=2, tickcolor="black"),
        tickfont=dict(family=FONT, size=20, color="black"), fixedrange=True,
    )
    yt = [i * p["ystep"] for i in range(int(ymax / p["ystep"]) + 1)]
    layout_axes["yaxis" + sfx] = dict(
        domain=[fy(zero_px), fy(top_px)], range=[0, ymax], anchor="free", position=fx(yaxis_px),
        showline=True, linewidth=3, linecolor="black", showgrid=False, zeroline=False,
        ticks="outside", ticklen=8, tickwidth=2.5, tickcolor="black",
        tickmode="array", tickvals=yt, ticktext=["%.1f" % v for v in yt],
        minor=dict(tickmode="array", tickvals=[v + p["ystep"] / 2 for v in yt[:-1]],
                   ticks="outside", ticklen=5, tickwidth=2, tickcolor="black"),
        tickfont=dict(family=FONT, size=20, color="black"), fixedrange=True,
    )

    axes = dict(xaxis="x" + sfx, yaxis="y" + sfx)
    # fitted curves
    for i, name in enumerate(p["names"]):
        fig.add_trace(go.Scatter(
            x=p["x"], y=p["fit"][i], mode="lines", showlegend=False,
            line=dict(color=COLORS[i], width=2, shape="spline", smoothing=1.0), **axes))
    # data points with SEM
    for i, name in enumerate(p["names"]):
        fig.add_trace(go.Scatter(
            x=p["x"], y=p["y"][i], mode="markers", showlegend=False, marker=marker_style(i),
            error_y=dict(type="data", array=p["e"][i], color=COLORS[i], thickness=2, width=4),
            cliponaxis=False, **axes))
    # legend entries (line + symbol, GraphPad style)
    for i, name in enumerate(p["names"]):
        grp = "top" if (p["split"] is None or i < p["split"]) else "bottom"
        fig.add_trace(go.Scatter(
            x=[None], y=[None], name=name, mode="lines+markers",
            line=dict(color=COLORS[i], width=2), marker=marker_style(i),
            legend="legend" + sfx, legendgroup=p["tag"] + grp, **axes))

    layout_axes["legend" + sfx] = dict(
        x=fx(yaxis_px + LEGEND_DX[col]), y=fy(top_px - 4), xanchor="left", yanchor="top",
        bgcolor="rgba(0,0,0,0)", borderwidth=0,
        font=dict(family=FONT, size=19, color="black"),
        traceorder="grouped" if p["split"] else "normal",
        tracegroupgap=p["gap"] * ROW_H if p["split"] else 0,
        itemclick=False, itemdoubleclick=False,
    )

    # dashed baseline at 1.0 (from y axis to the right end)
    one_px = zero_px - (1.0 / ymax) * (zero_px - top_px)
    shapes.append(dict(type="line", xref="paper", yref="paper",
                       x0=fx(yaxis_px), x1=fx(end_px + 4), y0=fy(one_px), y1=fy(one_px),
                       line=dict(color="black", width=2, dash="6px,5px"), layer="below"))
    # axis break
    shapes.append(dict(type="rect", xref="x" + sfx, yref="paper",
                       x0=seg_end + 0.02, x1=main_start - 0.02,
                       y0=fy(xaxis_px + 5), y1=fy(xaxis_px - 5),
                       fillcolor="white", line=dict(width=0), layer="above"))
    for xb in (seg_end, main_start):
        shapes.append(dict(type="line", xref="x" + sfx, yref="paper", x0=xb, x1=xb,
                           y0=fy(xaxis_px + 7), y1=fy(xaxis_px - 5),
                           line=dict(color="black", width=2.5), layer="above"))

    # texts
    annotations.append(dict(text="<b>%s</b>" % p["title"], xref="paper", yref="paper",
                            x=fx(yaxis_px + 275), y=fy(ROW_TITLE[row]), showarrow=False,
                            xanchor="center", yanchor="middle",
                            font=dict(family=FONT, size=18, color="black")))
    annotations.append(dict(text="<b>%s</b>" % p["tag"], xref="paper", yref="paper",
                            x=fx(end_px - 18), y=fy(top_px + 17), showarrow=False,
                            xanchor="center", yanchor="middle",
                            font=dict(family=FONT, size=20, color="black")))
    annotations.append(dict(text="RLU (fold of basal)", xref="paper", yref="paper",
                            x=fx(yaxis_px - 56), y=fy((top_px + zero_px) / 2), showarrow=False,
                            textangle=-90, xanchor="center", yanchor="middle",
                            font=dict(family=FONT, size=21, color="black")))
    annotations.append(dict(text="Log[Drug]", xref="paper", yref="paper",
                            x=fx((x0_px + end_px) / 2), y=fy(ROW_XTITLE[row]), showarrow=False,
                            xanchor="center", yanchor="middle",
                            font=dict(family=FONT, size=20, color="black")))

fig.update_layout(
    width=W, height=H, autosize=False,
    margin=dict(l=0, r=0, t=0, b=0),
    paper_bgcolor="white", plot_bgcolor="white",
    font=dict(family=FONT, color="black"),
    annotations=annotations, shapes=shapes,
    hovermode=False,
    **layout_axes,
)

fig.write_html("out.html")
